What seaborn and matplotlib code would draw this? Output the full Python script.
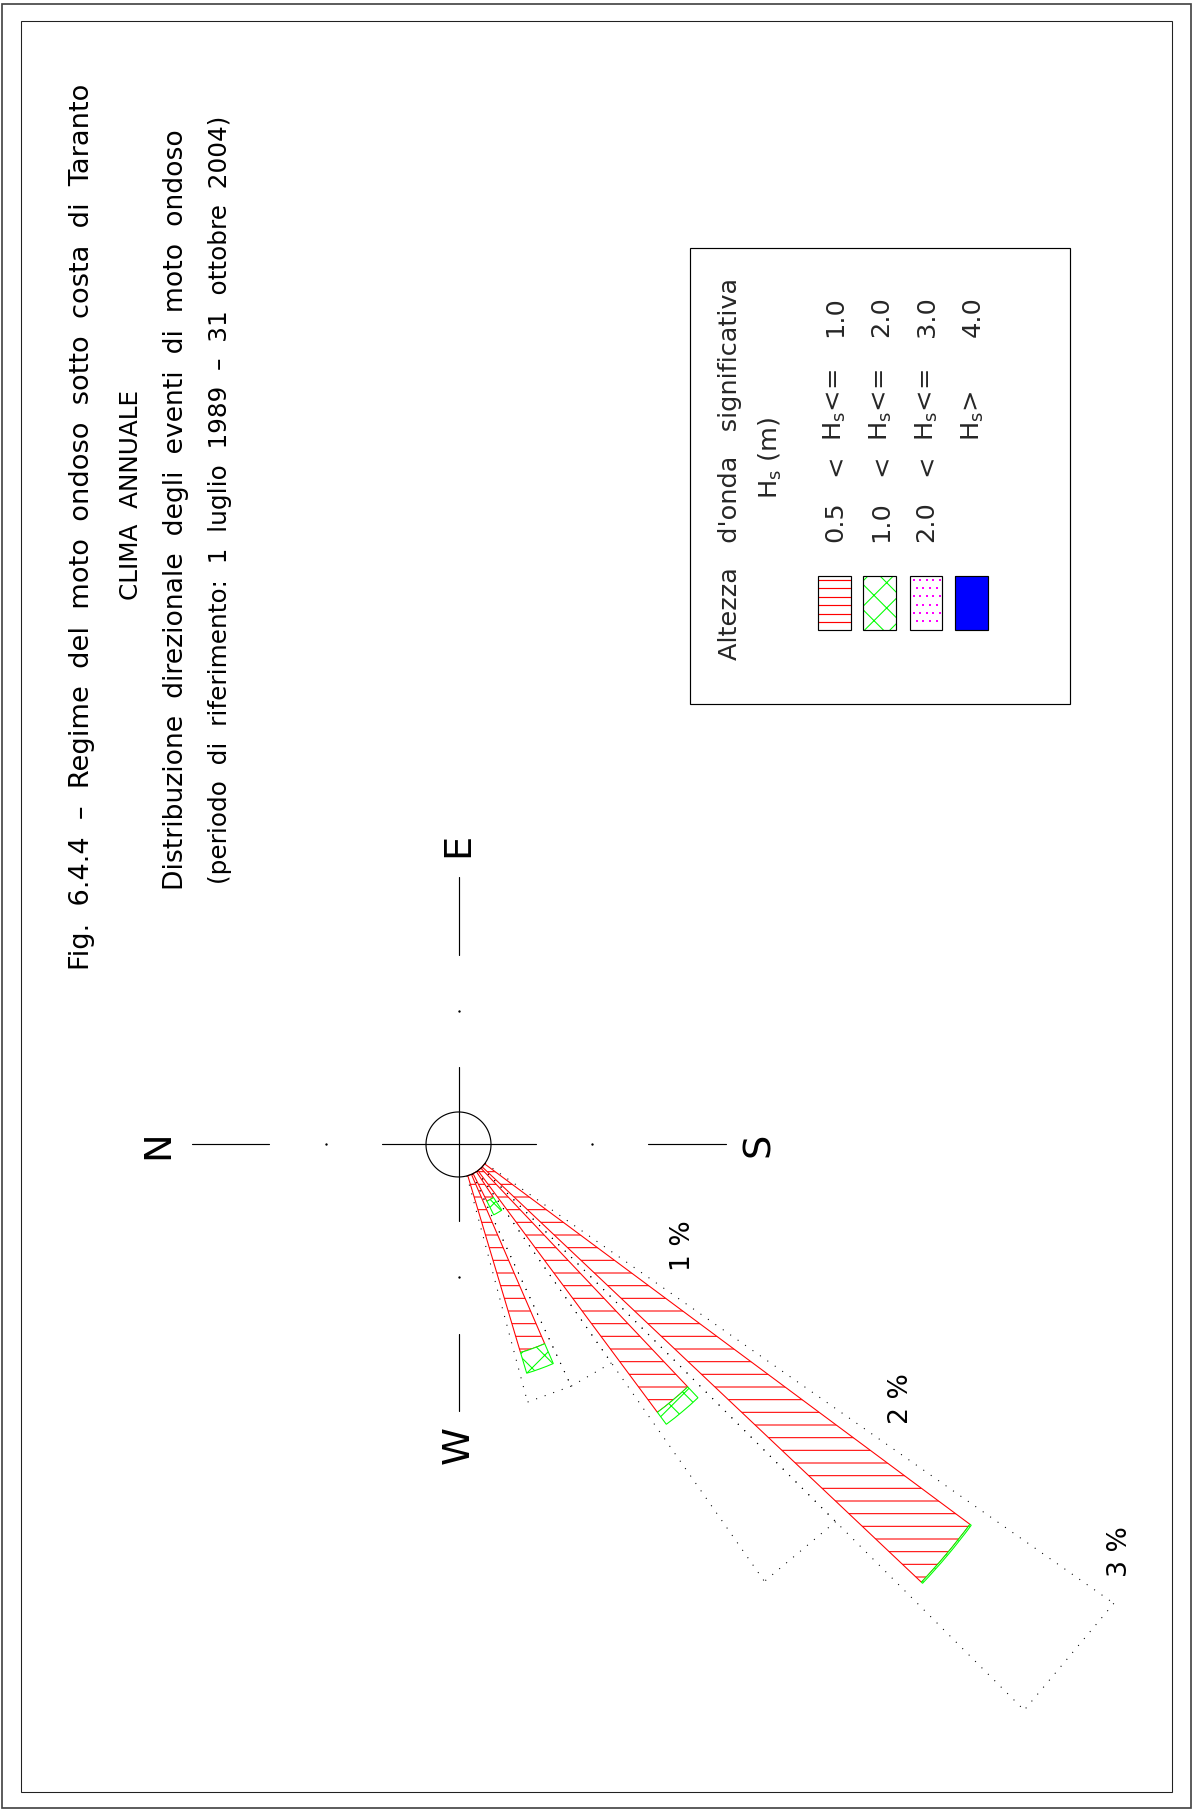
import numpy as np
import matplotlib
matplotlib.use("Agg")
import matplotlib.pyplot as plt
import seaborn as sns
from matplotlib.patches import Rectangle
from matplotlib import font_manager

# ---------------------------------------------------------------------------
# Annual directional wave climate (% of events per 10-degree sector)
# ---------------------------------------------------------------------------
directions_deg = [220, 230, 240, 250]            # bearing, degrees from N clockwise
pct_hs_05_10 = [2.389, 1.251, 0.238, 0.814]      # 0.5 < Hs <= 1.0
pct_hs_10_20 = [0.006, 0.056, 0.057, 0.081]      # 1.0 < Hs <= 2.0
pct_hs_20_30 = [0.0, 0.0, 0.0, 0.0]              # 2.0 < Hs <= 3.0
pct_hs_gt_30 = [0.0, 0.0, 0.0, 0.0]              # Hs > 3.0

ring_values = [1, 2, 3]
ring_labels = ["1 %", "2 %", "3 %"]
compass_bearings = [0, 90, 180, 270]
compass_labels = ["N", "E", "S", "W"]

title_lines = [
    "Fig.  6.4.4  –  Regime  del  moto  ondoso  sotto  costa  di  Taranto",
    "CLIMA  ANNUALE",
    "Distribuzione  direzionale  degli  eventi  di  moto  ondoso",
    "(periodo  di  riferimento:  1  luglio  1989  –  31  ottobre  2004)",
]
legend_title = "Altezza   d'onda   significativa"
legend_unit = r"H$_{\rm s}$ (m)"
class_lower = ["0.5", "1.0", "2.0", ""]
class_sign = ["<", "<", "<", ""]
class_op = [r"H$_{\rm s}$<=", r"H$_{\rm s}$<=", r"H$_{\rm s}$<=", r"H$_{\rm s}$>"]
class_upper = ["1.0", "2.0", "3.0", "4.0"]
class_colors = ["#ff0000", "#00ff00", "#ff00ff", "#0000ff"]

# ---------------------------------------------------------------------------
# Style
# ---------------------------------------------------------------------------
sns.set_theme(style="white")
plt.rcParams["font.family"] = ["DejaVu Sans"]
plt.rcParams["hatch.linewidth"] = 1.0
plt.rcParams["mathtext.default"] = "regular"

available = {f.name for f in font_manager.fontManager.ttflist}
title_family = "Liberation Sans Narrow" if "Liberation Sans Narrow" in available else "DejaVu Sans"

DPI = 76.8
W, H = 1192, 1811
fig = plt.figure(figsize=((W + 0.02) / DPI, (H + 0.02) / DPI), dpi=DPI)
fig.patch.set_facecolor("white")

# page layer in pixel units (y grows downward)
page = fig.add_axes([0, 0, 1, 1])
page.set_xlim(0, W)
page.set_ylim(H, 0)
page.axis("off")

# sheet borders
page.add_patch(Rectangle((1.5, 4), W - 3, H - 6.5, fill=False, ec="#444444", lw=1.6))
page.add_patch(Rectangle((21, 21), 1151, 1771, fill=False, ec="#222222", lw=1.0))

# ---------------------------------------------------------------------------
# Title block (rotated page)
# ---------------------------------------------------------------------------
renderer = fig.canvas.get_renderer()


def fit_along(txt, length):
    bb = txt.get_window_extent(renderer)
    txt.set_fontsize(txt.get_fontsize() * length / bb.height)


title_x = [82, 130.5, 175.5, 219.5]
title_y0 = [970, 600.6, 889, 883.6]
title_y1 = [83, 389, 130.5, 115.5]
for s, x, y0, y1 in zip(title_lines, title_x, title_y0, title_y1):
    t = page.text(x, (y0 + y1) / 2, s, rotation=90, ha="center", va="center",
                  fontsize=20, family=[title_family, "DejaVu Sans"], color="black")
    fit_along(t, y0 - y1)

# ---------------------------------------------------------------------------
# Legend
# ---------------------------------------------------------------------------
page.add_patch(Rectangle((689.5, 248.5), 380, 456, fill=False, ec="black", lw=1.1))
page.text(729.5, 660, legend_title, rotation=90, ha="center", va="bottom", fontsize=24)
page.text(770, 499, legend_unit, rotation=90, ha="center", va="bottom", fontsize=24)

row_x = [835, 881, 926.5, 972.5]
box_x = [817.7, 863.3, 910.0, 955.0]
box_w = [33.3, 32.7, 31.7, 33.3]
box_y, box_h = 575.7, 54.3
for i in range(4):
    x = row_x[i]
    if class_lower[i]:
        page.text(x, 542, class_lower[i], rotation=90, ha="center", va="bottom", fontsize=24)
    if class_sign[i]:
        page.text(x, 476, class_sign[i], rotation=90, ha="center", va="bottom", fontsize=24)
    page.text(x, 441, class_op[i], rotation=90, ha="center", va="bottom", fontsize=24)
    page.text(x, 337, class_upper[i], rotation=90, ha="center", va="bottom", fontsize=24)

    bx, bw = box_x[i], box_w[i]
    frame = Rectangle((bx, box_y), bw, box_h, fill=False, ec="black", lw=1.1, zorder=4)
    if i == 0:
        ys = np.arange(580, box_y + box_h - 2, 8.5)
        page.hlines(ys, bx + 0.5, bx + bw - 0.5, color=class_colors[0], lw=1.1, zorder=3)
    elif i == 1:
        page.add_patch(Rectangle((bx, box_y), bw, box_h, fc="white", ec=class_colors[1],
                                 hatch="x", lw=0, zorder=3))
    elif i == 2:
        gx, gy = np.meshgrid(np.arange(bx + 3.5, bx + bw - 1, 6.6),
                             np.arange(box_y + 4, box_y + box_h - 1, 8.3))
        gx = gx + (np.arange(gx.shape[0])[:, None] % 2) * 3.3
        keep = gx < bx + bw - 1
        page.scatter(gx[keep], gy[keep], s=2.5, marker="s", color=class_colors[2],
                     linewidths=0, zorder=3)
    else:
        page.add_patch(Rectangle((bx, box_y), bw, box_h, fc=class_colors[3], lw=0, zorder=3))
    page.add_patch(frame)

# ---------------------------------------------------------------------------
# Wave rose on a polar axes (N to the left, bearings clockwise)
# ---------------------------------------------------------------------------
PX_PER_PCT = 266.67
cx, cy = 458.5, 1144.5
RMAX = 3.2
R = RMAX * PX_PER_PCT
fw, fh = fig.bbox.width, fig.bbox.height
ax = fig.add_axes([(cx - R) / fw, (fh - cy - R) / fh, 2 * R / fw, 2 * R / fh],
                  projection="polar")
ax.set_theta_zero_location("W")
ax.set_theta_direction(-1)
ax.set_ylim(0, RMAX)
ax.set_axis_off()

r_calm = 32.5 / PX_PER_PCT
theta = np.deg2rad(directions_deg)
bar_width = np.deg2rad(6.8)
half_sector = np.deg2rad(5.0)

# sector outlines up to the next whole-percent ring (dotted)
totals = (np.asarray(pct_hs_05_10) + np.asarray(pct_hs_10_20)
          + np.asarray(pct_hs_20_30) + np.asarray(pct_hs_gt_30))
dot_style = dict(color="black", lw=1.0, linestyle=(0, (1.0, 7.5)), zorder=1)
for d, tot in zip(theta, totals):
    ring = np.ceil(tot)
    for edge in (d - half_sector, d + half_sector):
        ax.plot([edge, edge], [r_calm, ring], **dot_style)
    tt = np.linspace(d - half_sector, d + half_sector, 40)
    ax.plot(tt, ring * np.cos(half_sector) / np.cos(tt - d), **dot_style)

# stacked wave-height classes
classes = [
    (pct_hs_05_10, class_colors[0], "-"),
    (pct_hs_10_20, class_colors[1], "x"),
    (pct_hs_20_30, class_colors[2], "."),
    (pct_hs_gt_30, class_colors[3], None),
]
cum = np.zeros(len(theta))
for vals, color, hatch in classes:
    vals = np.asarray(vals, dtype=float)
    lower = np.maximum(cum, r_calm)
    upper = cum + vals
    m = vals > 0
    if m.any():
        if hatch:
            ax.bar(theta[m], (upper - lower)[m], width=bar_width, bottom=lower[m],
                   facecolor="white", edgecolor=color, hatch=hatch, linewidth=1.0, zorder=2)
        else:
            ax.bar(theta[m], (upper - lower)[m], width=bar_width, bottom=lower[m],
                   facecolor=color, edgecolor=color, linewidth=1.0, zorder=2)
    cum = upper

# calm circle and compass axes
tc = np.linspace(0, 2 * np.pi, 120)
ax.plot(tc, np.full_like(tc, r_calm), color="black", lw=1.1, zorder=3)
for b, lab in zip(compass_bearings, compass_labels):
    t = np.deg2rad(b)
    ax.plot([t, t], [0, 77 / PX_PER_PCT], color="black", lw=1.1, zorder=3)
    ax.plot([t], [133 / PX_PER_PCT], marker="o", ms=1.2, color="black", zorder=3)
    ax.plot([t, t], [189.5 / PX_PER_PCT, 267 / PX_PER_PCT], color="black", lw=1.1, zorder=3)
    ax.text(t, 300 / PX_PER_PCT, lab, rotation=90, ha="center", va="center",
            fontsize=36, color="black")

# ring labels
label_bearing = np.deg2rad(215)
for v, lab in zip(ring_values, ring_labels):
    ax.annotate(lab, xy=(label_bearing, v), xytext=(6, 52), textcoords="offset pixels",
                rotation=90, ha="center", va="center", fontsize=25, color="black")

fig.savefig("out.png", dpi=DPI, facecolor="white")
